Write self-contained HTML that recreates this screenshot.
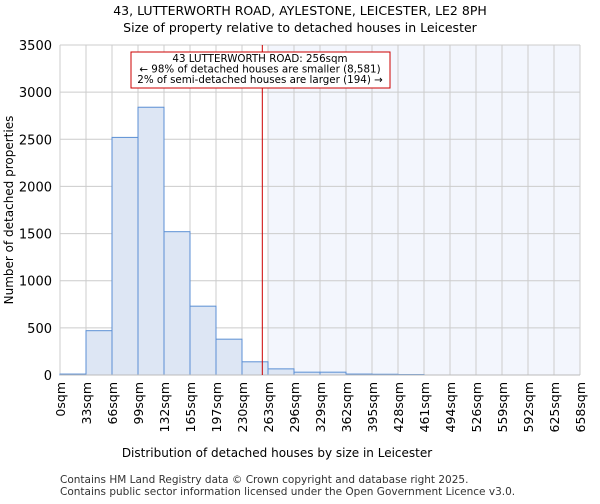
<!DOCTYPE html>
<html><head><meta charset="utf-8"><style>
body{margin:0;background:#fff;font-family:"DejaVu Sans","Liberation Sans",sans-serif}
</style></head><body>
<svg width="600" height="500" xmlns="http://www.w3.org/2000/svg" font-family="DejaVu Sans, Liberation Sans, sans-serif">
<text x="300" y="15" text-anchor="middle" font-size="12.5">43, LUTTERWORTH ROAD, AYLESTONE, LEICESTER, LE2 8PH</text>
<text x="300" y="32" text-anchor="middle" font-size="12.5">Size of property relative to detached houses in Leicester</text>
<g id="plot"></g>
<text x="277" y="457" text-anchor="middle" font-size="12">Distribution of detached houses by size in Leicester</text>
<text transform="translate(13,210) rotate(-90)" text-anchor="middle" font-size="12">Number of detached properties</text>
<text x="60" y="483" font-size="10.5" fill="#333">Contains HM Land Registry data © Crown copyright and database right 2025.</text>
<text x="60" y="495" font-size="10.5" fill="#333">Contains public sector information licensed under the Open Government Licence v3.0.</text>
</svg>
<script>
const categories=["0sqm","33sqm","66sqm","99sqm","132sqm","165sqm","197sqm","230sqm","263sqm","296sqm","329sqm","362sqm","395sqm","428sqm","461sqm","494sqm","526sqm","559sqm","592sqm","625sqm","658sqm"];
const counts=[10,470,2520,2840,1520,730,380,140,65,30,30,10,8,5,0,0,0,0,0,0];
const yTicks=[0,500,1000,1500,2000,2500,3000,3500];
const propertySize=256;
const maxSize=658;
const L=60,R=580,T=45,B=375,yMax=3500;
const ns="http://www.w3.org/2000/svg";
const g=document.getElementById('plot');
const bw=(R-L)/counts.length;
const x=i=>L+i*bw;
const xs=v=>L+v/maxSize*(R-L);
const y=v=>B-v/yMax*(B-T);
function mk(t,a){const e=document.createElementNS(ns,t);for(const k in a)e.setAttribute(k,a[k]);g.appendChild(e);return e;}
const hs=x(8);
const hl=mk('rect',{x:hs,y:T,width:R-hs,height:B-T,fill:'#f3f6fd'});


categories.forEach((c,i)=>{const l=mk('line',{x1:x(i),x2:x(i),y1:T,y2:B,stroke:'#ccc','stroke-width':1});

});
yTicks.forEach(v=>{const l=mk('line',{x1:L,x2:R,y1:y(v),y2:y(v),stroke:'#ccc','stroke-width':1});


const t=mk('text',{x:L-8,y:y(v)+5,'text-anchor':'end','font-size':13});t.textContent=v;

});
counts.forEach((v,i)=>{if(v<=0)return;const r=mk('rect',{x:x(i),y:y(v),width:bw,height:B-y(v),fill:'#dde6f4',stroke:'#5b8fd4','stroke-width':1});

});
categories.forEach((c,i)=>{const t=mk('text',{transform:`translate(${x(i)+5},382) rotate(-90)`,'text-anchor':'end','font-size':12.5});t.textContent=c;

});
const ax=mk('line',{x1:L,x2:R,y1:B,y2:B,stroke:'#bbb'});


const rl=mk('line',{x1:xs(propertySize),x2:xs(propertySize),y1:T,y2:B,stroke:'#cc0000','stroke-width':1});


const box=mk('rect',{x:131,y:52,width:259,height:36,fill:'#fff',stroke:'#cc0000','stroke-width':1});


["43 LUTTERWORTH ROAD: 256sqm","← 98% of detached houses are smaller (8,581)","2% of semi-detached houses are larger (194) →"].forEach((s,i)=>{const t=mk('text',{x:260,y:62+i*10.5,'text-anchor':'middle','font-size':10.3});t.textContent=s;

});
</script>
</body></html>
